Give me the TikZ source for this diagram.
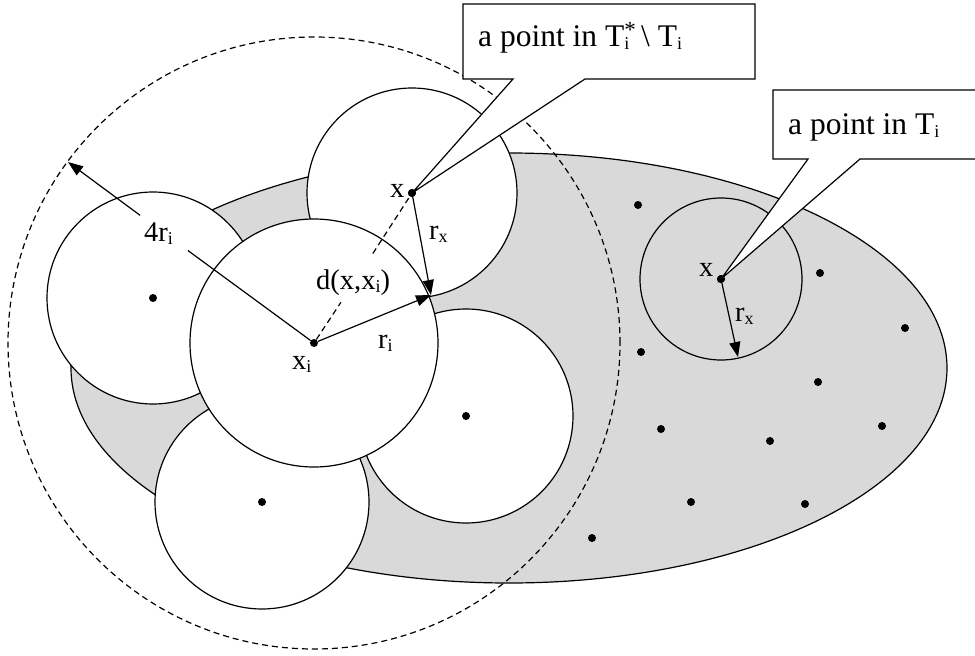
\documentclass[tikz,border=0pt]{standalone}
\usepackage{fontspec}
\setmainfont{Liberation Serif}
\usetikzlibrary{arrows.meta}
\definecolor{regiongray}{RGB}{217,217,217}
\newcommand\lsub[1]{\raisebox{-3pt}{\fontsize{18}{18}\selectfont #1}}
\newcommand\lsupsub[2]{\rlap{\raisebox{9pt}{\fontsize{23}{23}\selectfont #1}}\lsub{#2}}
\tikzset{
  outline/.style={line width=1.2pt, black},
  disc/.style={outline, fill=white},
  dotnode/.style={circle, fill=black, inner sep=0pt, minimum size=8pt},
  lab/.style={font=\fontsize{28.5}{31}\selectfont, inner sep=0pt, anchor=base west},
  biglab/.style={font=\fontsize{31.5}{34}\selectfont, inner sep=0pt, anchor=base west},
  gap/.style={circle, inner sep=0pt, minimum size=#1},
  arr/.style={outline, -{Triangle[length=15pt,width=11pt]}},
  dsh/.style={outline, dash pattern=on 6pt off 4pt},
  callout/.style={outline, fill=white, line join=miter}
}
\begin{document}
\begin{tikzpicture}[x=1pt,y=-1pt]
\path[use as bounding box, clip] (0,0) rectangle (975,656);
% region T
\draw[outline, fill=regiongray] (509,368) ellipse[x radius=438pt, y radius=215pt];
% white neighbour balls
\draw[disc] (153,298) circle[radius=106pt];
\draw[disc] (412,193) circle[radius=105pt];
\draw[disc] (262,502) circle[radius=107pt];
\draw[disc] (466,416) circle[radius=107pt];
% ball of x_i
\draw[disc] (314,343) circle[radius=124pt];
% ball in T_i
\draw[outline] (721,279) circle[radius=81pt];
% 4 r_i circle
\draw[dsh] (314,343) circle[radius=306pt];
% dots
\node[dotnode] (xi) at (314,343) {};
\node[dotnode] (x1) at (412,193) {};
\node[dotnode] (x2) at (721,279) {};
\node[dotnode] (c1) at (153,298) {};
\node[dotnode] (c2) at (262,502) {};
\node[dotnode] (c3) at (466,416) {};
\foreach \px/\py [count=\k] in {638/205,820/273,905/328,641/352,818/382,661/429,770/441,882/426,691/502,805/504,592/538}
  \node[dotnode] (t\k) at (\px,\py) {};
% arrow end points
\coordinate (P) at (431,295);
\coordinate (tip4) at (68,162);
\coordinate (tipx2) at (738,357);
% gaps for labels on lines
\node[gap=59pt] (g4) at (164,233) {};
\node[gap=58pt] (gd) at (357,278) {};
% lines and arrows
\draw[outline] (xi) -- (g4);
\draw[arr] (g4) -- (tip4);
\draw[dsh] (xi) -- (gd);
\draw[dsh] (gd) -- (x1);
\draw[arr] (xi) -- (P);
\draw[arr] (x1) -- (P);
\draw[arr] (x2) -- (tipx2);
% callouts
\coordinate (a1) at (463,4);
\coordinate (a2) at (755,4);
\coordinate (a3) at (755,79);
\coordinate (a4) at (585,79);
\coordinate (a5) at (513,79);
\coordinate (a6) at (463,79);
\draw[callout] (a1) -- (a2) -- (a3) -- (a4) -- (x1.center) -- (a5) -- (a6) -- cycle;
\coordinate (b1) at (773,90);
\coordinate (b2) at (990,90);
\coordinate (b3) at (990,159);
\coordinate (b4) at (860,159);
\coordinate (b5) at (808,159);
\coordinate (b6) at (773,159);
\draw[callout] (b1) -- (b2) -- (b3) -- (b4) -- (x2.center) -- (b5) -- (b6) -- cycle;
\node[dotnode] at (x1) {};
\node[dotnode] at (x2) {};
% labels
\node[biglab] (L1) at (478,46) {a point in T\lsupsub{*}{i}\hspace{4pt} \textbackslash{} T\lsub{i}};
\node[biglab] (L2) at (788,134) {a point in T\lsub{i}};
\node[lab] (Lx1) at (390,197) {x};
\node[lab] (Lrx1) at (429,239) {r\lsub{x}};
\node[lab] (Ld) at (316,289) {d(x,x\lsub{i})};
\node[lab] (Lri) at (378,348) {r\lsub{i}};
\node[lab] (Lxi) at (292,369) {x\lsub{i}};
\node[lab] (L4) at (144,241) {4r\lsub{i}};
\node[lab] (Lx2) at (699,276) {x};
\node[lab] (Lrx2) at (735,321) {r\lsub{x}};
\end{tikzpicture}
\end{document}
